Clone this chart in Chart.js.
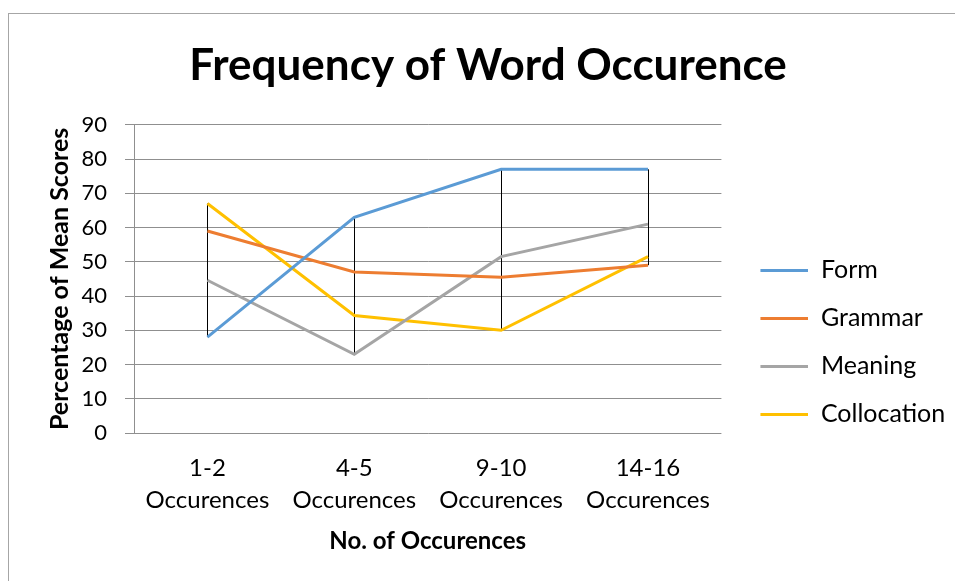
<!DOCTYPE html>
<html>
<head>
<meta charset="utf-8">
<script src="https://cdn.jsdelivr.net/npm/chart.js@4"></script>
<style>
  html, body { margin: 0; padding: 0; background: #fff; overflow: hidden; }
  #frame { position: absolute; left: 8px; top: 13px; border-left: 1px solid #a6a6a6; border-top: 1px solid #a6a6a6; }
  canvas { display: block; }
</style>
</head>
<body>
<div id="frame"><canvas id="wordChart" width="1000" height="656"></canvas></div>
<script>
const categories = [['1-2', 'Occurences'], ['4-5', 'Occurences'], ['9-10', 'Occurences'], ['14-16', 'Occurences']];
const seriesNames = ['Form', 'Grammar', 'Meaning', 'Collocation'];
const form = [28, 63, 77, 77];
const grammar = [59, 47, 45.5, 49];
const meaning = [44.6, 23, 51.5, 61];
const collocation = [67, 34.3, 30, 51.5];

Chart.defaults.font.family = 'Lato';
Chart.defaults.color = '#000';

const gridColor = '#8f8f8f';
const canvasW = 1000;
const plotRight = 712;      // right edge of the plot area, canvas px
const legendFont = 25;
const legendPad = 23;
const markW = 64;

// work out legend width so the plot area ends where it should
const mctx = document.createElement('canvas').getContext('2d');
mctx.font = 'normal ' + legendFont + 'px Lato';
const textW = Math.max(...seriesNames.map(n => mctx.measureText(n).width));
const legendW = legendPad + markW + legendFont / 2 + textW + 10;
const padR = canvasW - plotRight - legendW;
const padL = Math.max(0, 2 * 479 - plotRight - legendW);

// legend symbol: short line with empty space in front of it
function legendMark(color) {
    const c = document.createElement('canvas');
    c.width = markW; c.height = 3;
    const g = c.getContext('2d');
    g.fillStyle = color;
    g.fillRect(markW - 48, 0, 48, 3);
    return c;
}

// black high-low lines between the highest and lowest series at each category
const hiLoLines = {
    id: 'hiLoLines',
    beforeDatasetsDraw(chart) {
        const { ctx, scales: { x, y } } = chart;
        ctx.save();
        ctx.strokeStyle = '#000';
        ctx.lineWidth = 1;
        categories.forEach((c, i) => {
            const vals = chart.data.datasets.map(d => d.data[i]);
            const px = Math.round(x.getPixelForValue(i)) + 0.5;
            ctx.beginPath();
            ctx.moveTo(px, y.getPixelForValue(Math.max(...vals)));
            ctx.lineTo(px, y.getPixelForValue(Math.min(...vals)));
            ctx.stroke();
        });
        ctx.restore();
    }
};

function line(label, data, color) {
    return {
        label: label, data: data,
        borderColor: color, backgroundColor: color,
        borderWidth: 3, pointRadius: 0, tension: 0, fill: false,
        pointStyle: legendMark(color)
    };
}

const ctx = document.getElementById('wordChart').getContext('2d');
const chart = new Chart(ctx, {
    type: 'line',
    data: {
        labels: categories,
        datasets: [
            line(seriesNames[0], form, '#5b9bd5'),
            line(seriesNames[1], grammar, '#ed7d31'),
            line(seriesNames[2], meaning, '#a5a5a5'),
            line(seriesNames[3], collocation, '#ffc000')
        ]
    },
    options: {
        responsive: false,
        animation: false,
        layout: { padding: { left: padL, right: padR, top: 0, bottom: 0 } },
        plugins: {
            title: {
                display: true,
                text: 'Frequency of Word Occurence',
                font: { size: 44, weight: 'bold' },
                color: '#000',
                padding: { top: 25, bottom: 33 }
            },
            legend: {
                position: 'right',
                labels: {
                    usePointStyle: true, pointStyleWidth: markW,
                    padding: legendPad,
                    font: { size: legendFont }, color: '#000'
                }
            },
            tooltip: { enabled: false }
        },
        scales: {
            x: {
                offset: true,
                grid: { display: false, drawTicks: false },
                border: { display: false },
                ticks: { font: { size: 24, lineHeight: 1.3333 }, padding: 19, maxRotation: 0, autoSkip: false },
                title: {
                    display: true, text: 'No. of Occurences',
                    font: { size: 24, weight: 'bold' }, padding: { top: 0, bottom: 114.6 }
                },
                afterFit(s) { s.height = 237; }
            },
            y: {
                min: 0, max: 90,
                ticks: { stepSize: 10, font: { size: 22 }, padding: 18 },
                grid: { color: gridColor, tickLength: 9 },
                border: { color: gridColor },
                title: {
                    display: true, text: 'Percentage of Mean Scores',
                    font: { size: 25, weight: 'bold' }, padding: { top: 51 - 15 - padL, bottom: 0 }
                },
                afterFit(s) { s.width = 125 - padL; }
            }
        }
    },
    plugins: [hiLoLines]
});
</script>
</body>
</html>
